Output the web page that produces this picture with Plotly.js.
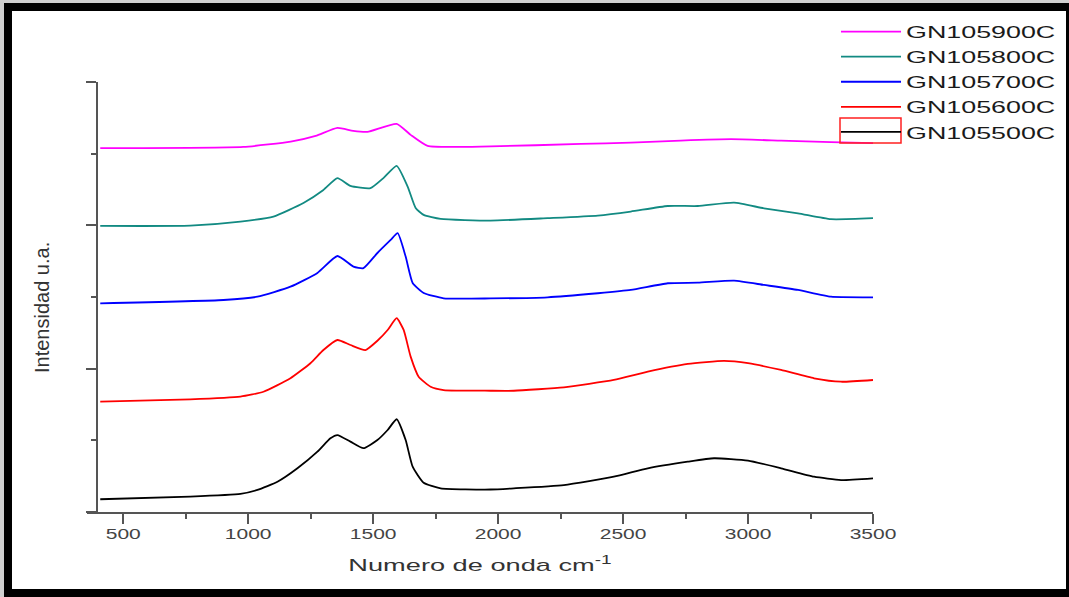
<!DOCTYPE html>
<html>
<head>
<meta charset="utf-8">
<script src="https://cdn.plot.ly/plotly-3.0.1.min.js"></script>
<style>
  html, body { margin: 0; padding: 0; background: #fff; }
  #chart { width: 1069px; height: 597px; }
</style>
</head>
<body>
<div id="chart"></div>
<script>
// Wavenumber (cm^-1) sample positions and intensities (arbitrary units, stacked offsets as in the figure)
const names = ["GN105900C", "GN105800C", "GN105700C", "GN105600C", "GN105500C"];
const colors = ["#ff00ff", "#128a82", "#0000ff", "#ff0000", "#000000"];

const x900 = [408, 980, 1170, 1270, 1357, 1420, 1477, 1594, 1650, 1718, 1970, 2331, 2531, 2731, 2932, 3132, 3332, 3500];
const y900 = [2.538, 2.547, 2.584, 2.624, 2.680, 2.659, 2.652, 2.708, 2.631, 2.554, 2.551, 2.568, 2.577, 2.591, 2.601, 2.591, 2.580, 2.573];

const x800 = [408, 768, 969, 1101, 1221, 1301, 1357, 1409, 1489, 1542, 1594, 1638, 1670, 1702, 1770, 1970, 2198, 2399, 2531, 2679, 2799, 2944, 3064, 3200, 3332, 3500];
const y800 = [1.996, 1.998, 2.026, 2.061, 2.156, 2.247, 2.329, 2.275, 2.259, 2.331, 2.415, 2.270, 2.121, 2.073, 2.045, 2.033, 2.050, 2.068, 2.096, 2.135, 2.135, 2.158, 2.119, 2.084, 2.043, 2.050];

const x700 = [408, 901, 1037, 1169, 1277, 1357, 1421, 1461, 1517, 1570, 1598, 1630, 1658, 1702, 1782, 1970, 2198, 2399, 2531, 2679, 2799, 2944, 3064, 3200, 3332, 3500];
const y700 = [1.456, 1.479, 1.502, 1.572, 1.668, 1.786, 1.712, 1.701, 1.807, 1.898, 1.945, 1.782, 1.598, 1.528, 1.491, 1.490, 1.498, 1.526, 1.549, 1.596, 1.600, 1.614, 1.584, 1.549, 1.502, 1.498];

const x600 = [408, 768, 969, 1061, 1169, 1249, 1301, 1357, 1409, 1469, 1517, 1558, 1594, 1622, 1650, 1682, 1730, 1782, 1970, 2063, 2263, 2463, 2599, 2759, 2904, 3000, 3132, 3264, 3372, 3500];
const y600 = [0.770, 0.786, 0.805, 0.839, 0.933, 1.038, 1.130, 1.200, 1.165, 1.130, 1.195, 1.270, 1.352, 1.270, 1.084, 0.944, 0.874, 0.851, 0.846, 0.846, 0.870, 0.921, 0.979, 1.033, 1.054, 1.038, 0.991, 0.933, 0.909, 0.921];

const x500 = [408, 768, 969, 1037, 1117, 1197, 1277, 1329, 1357, 1409, 1461, 1517, 1558, 1594, 1630, 1658, 1702, 1770, 1970, 2063, 2263, 2463, 2599, 2759, 2864, 3000, 3132, 3264, 3372, 3500];
const y500 = [0.089, 0.107, 0.126, 0.154, 0.211, 0.305, 0.421, 0.514, 0.537, 0.491, 0.445, 0.502, 0.572, 0.647, 0.502, 0.316, 0.204, 0.165, 0.157, 0.165, 0.188, 0.246, 0.305, 0.351, 0.375, 0.358, 0.305, 0.246, 0.223, 0.235];

const xs = [x900, x800, x700, x600, x500];
const ys = [y900, y800, y700, y600, y500];

const xTickVals = [500, 1000, 1500, 2000, 2500, 3000, 3500];
const xTickText = ["500", "1000", "1500", "2000", "2500", "3000", "3500"];

const traces = names.map((n, i) => ({
  type: "scatter",
  mode: "lines",
  name: n,
  x: xs[i],
  y: ys[i],
  line: { color: colors[i], width: 1.8, shape: "spline", smoothing: 0.5 },
  hoverinfo: "x+y+name"
}));

// pixel helpers for decoration placement (plot area: x 87..873, y 82..512)
const L = 87, R = 873, T = 82, B = 512;
const px = v => (v - L) / (R - L);
const py = v => (B - v) / (B - T);

const frame = [
  { x0: 0, x1: 1069, y0: 0, y1: 3, c: "#cfcfcf" },
  { x0: 0, x1: 4, y0: 0, y1: 597, c: "#cfcfcf" },
  { x0: 4, x1: 1069, y0: 3, y1: 11, c: "#000" },
  { x0: 4, x1: 12, y0: 3, y1: 597, c: "#000" },
  { x0: 4, x1: 1069, y0: 589, y1: 597, c: "#000" },
  { x0: 1066, x1: 1069, y0: 3, y1: 597, c: "#000" }
];

const shapes = frame.map(f => ({
  type: "rect", xref: "paper", yref: "paper", layer: "above",
  x0: px(f.x0), x1: px(f.x1), y0: py(f.y1), y1: py(f.y0),
  fillcolor: f.c, line: { width: 0 }
}));
shapes.push({
  type: "rect", xref: "paper", yref: "paper", layer: "above",
  x0: px(840), x1: px(901), y0: py(143), y1: py(118),
  line: { color: "#ff2020", width: 1.5 }, fillcolor: "rgba(0,0,0,0)"
});

const FONT = "Liberation Sans, Arial, sans-serif";

const layout = {
  width: 1069, height: 597,
  margin: { l: L, r: 1069 - R, t: T, b: 597 - B },
  paper_bgcolor: "#fff", plot_bgcolor: "#fff",
  showlegend: true,
  legend: {
    x: px(836), y: py(14), xanchor: "left", yanchor: "top",
    bgcolor: "rgba(0,0,0,0)", borderwidth: 0,
    font: { family: FONT, size: 17, color: "#1a1a1a" },
    itemwidth: 60, tracegroupgap: 0
  },
  xaxis: {
    range: [355, 3500],
    showgrid: false, zeroline: false,
    showline: true, linecolor: "#555", linewidth: 2,
    ticks: "outside", ticklen: 10, tickwidth: 2, tickcolor: "#555",
    tickvals: xTickVals, ticktext: xTickText,
    minor: { dtick: 250, tick0: 0, ticks: "outside", ticklen: 5, tickwidth: 2, tickcolor: "#555" },
    tickfont: { family: FONT, size: 14, color: "#444" },
    title: { text: "Numero de onda cm<sup>-1</sup>", standoff: 16,
      font: { family: FONT, size: 17, color: "#333" } },
    fixedrange: true
  },
  yaxis: {
    range: [0, 3],
    anchor: "free", position: px(97),
    showgrid: false, zeroline: false,
    showline: true, linecolor: "#555", linewidth: 2,
    ticks: "outside", ticklen: 10, tickwidth: 2, tickcolor: "#555",
    tickvals: [0, 1, 2, 3], showticklabels: false,
    minor: { tickvals: [0.5, 1.5, 2.5], ticks: "outside", ticklen: 5, tickwidth: 2, tickcolor: "#555" },
    fixedrange: true
  },
  annotations: [{
    text: "Intensidad u.a.", xref: "paper", yref: "paper",
    x: px(42), y: py(308), xanchor: "center", yanchor: "middle",
    textangle: -90, showarrow: false,
    font: { family: FONT, size: 20, color: "#333" }
  }],
  shapes: shapes
};

// widen text horizontally about its anchor point (the reference image is stretched sideways)
function stretch(sel, s, dy) {
  document.querySelectorAll(sel).forEach(t => {
    const x = parseFloat(t.getAttribute("x")) || 0;
    const tr = t.getAttribute("transform") || "";
    t.setAttribute("transform", tr + " translate(" + x + "," + (dy || 0) + ") scale(" + s + ",1) translate(" + (-x) + ",0)");
  });
}

Plotly.newPlot("chart", traces, layout, { displayModeBar: false, staticPlot: true }).then(() => {
  stretch(".xtick text", 1.5, -2);
  stretch(".legendtext", 1.58, 0);
  stretch(".g-xtitle text", 1.6, 0);
  document.querySelectorAll(".legend, .legend *").forEach(el => el.removeAttribute("clip-path"));
});
</script>
</body>
</html>
